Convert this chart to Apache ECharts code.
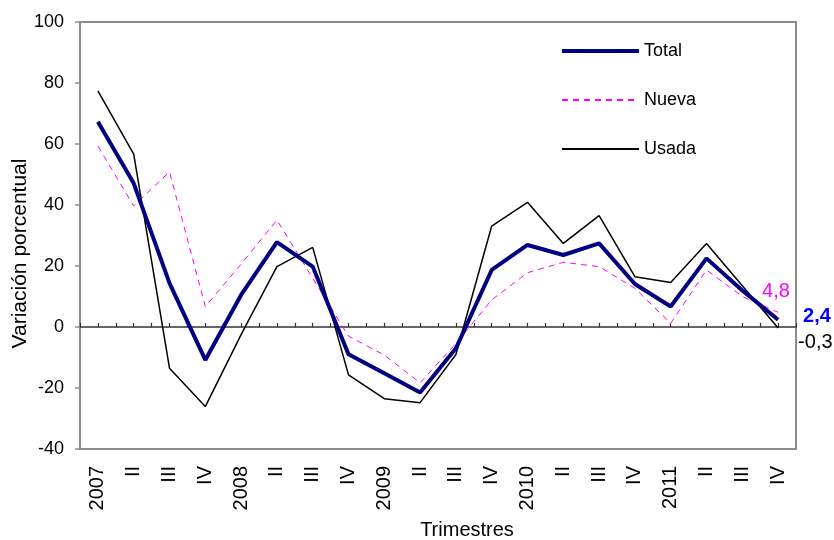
<!DOCTYPE html>
<html>
<head>
<meta charset="utf-8">
<script src="https://cdn.jsdelivr.net/npm/echarts@6/dist/echarts.min.js"></script>
<style>html,body{margin:0;padding:0;background:#fff}#c{width:834px;height:540px}</style>
</head>
<body>
<div id="c"></div>
<script>
const categories = ['2007','II','III','IV','2008','II','III','IV','2009','II','III','IV','2010','II','III','IV','2011','II','III','IV'];
const total = [67.3, 47.1, 14.4, -10.8, 10.5, 27.8, 19.8, -8.9, -15.2, -21.5, -7.0, 18.7, 26.9, 23.6, 27.4, 14.1, 6.7, 22.5, 12.0, 2.4];
const nueva = [59.3, 39.7, 50.9, 6.7, 20.6, 35.1, 16.0, -3.0, -9.2, -18.3, -5.4, 8.9, 17.8, 21.2, 19.8, 12.7, 1.2, 18.7, 10.0, 4.8];
const usada = [77.4, 56.7, -13.5, -26.1, -2.5, 19.8, 26.1, -15.7, -23.5, -24.8, -9.0, 33.1, 40.9, 27.4, 36.5, 16.5, 14.6, 27.4, 13.5, -0.3];
const yTicks = { min: -40, max: 100, interval: 20 };

const FONT = 'Liberation Sans, Arial, sans-serif';
const fmt = v => String(v).replace('.', ',');
const endLbl = (color, bold, offset) => ({
  show: true,
  offset: offset,
  distance: 5,
  color: color,
  fontFamily: FONT,
  fontSize: 20,
  fontWeight: bold ? 'bold' : 'normal',
  formatter: p => fmt(p.value)
});

const chart = echarts.init(document.getElementById('c'), null, { renderer: 'canvas' });
chart.setOption({
  animation: false,
  backgroundColor: '#fff',
  textStyle: { fontFamily: FONT },
  title: {
    text: 'Trimestres',
    left: 467, top: 520, textAlign: 'center', padding: 0,
    textStyle: { fontFamily: FONT, fontSize: 20, fontWeight: 'normal', color: '#000' }
  },
  grid: {
    left: 80, right: 38, top: 22, bottom: 91,
    outerBoundsMode: 'none', containLabel: false,
    show: true, borderColor: '#8c8c8c', borderWidth: 2, backgroundColor: 'transparent'
  },
  legend: {
    orient: 'vertical',
    left: 555, top: 37,
    itemWidth: 77, itemHeight: 14, itemGap: 31,
    itemStyle: { opacity: 0 },
    textStyle: { fontFamily: FONT, fontSize: 18, color: '#000' },
    data: [
      { name: 'Total', lineStyle: { width: 4 } },
      { name: 'Nueva' },
      { name: 'Usada' }
    ]
  },
  xAxis: [
    {
      type: 'category', data: categories, position: 'bottom',
      axisLine: { show: false, onZero: false },
      axisTick: { show: false },
      axisLabel: { rotate: 90, fontSize: 20, color: '#000', fontFamily: FONT, margin: 17, interval: 0 }
    },
    {
      type: 'category', data: Array(categories.length * 2 + 1).fill(''), position: 'top',
      boundaryGap: false,
      axisLine: { show: true, onZero: true, lineStyle: { color: '#333', width: 1.5 } },
      axisTick: { show: true, inside: false, length: 4, interval: 0, lineStyle: { color: '#333', width: 1.2 } },
      axisLabel: { show: false }
    }
  ],
  yAxis: {
    type: 'value', min: yTicks.min, max: yTicks.max, interval: yTicks.interval,
    name: 'Variación porcentual', nameLocation: 'middle', nameGap: 49, nameRotate: 90,
    nameMoveOverlap: false,
    nameTextStyle: { fontFamily: FONT, fontSize: 21, color: '#000', padding: [0, 36, 0, 0] },
    axisLine: { show: true, lineStyle: { color: '#8c8c8c', width: 2 } },
    axisTick: { show: true, length: 5, lineStyle: { color: '#8c8c8c', width: 1.5 } },
    splitLine: { show: false },
    axisLabel: { fontSize: 18, color: '#000', fontFamily: FONT, margin: 16 }
  },
  series: [
    {
      name: 'Nueva', type: 'line', data: nueva, symbol: 'none', z: 3,
      lineStyle: { color: '#ff00ff', width: 1, type: [6, 5] },
      itemStyle: { color: '#ff00ff' },
      endLabel: endLbl('#ff00ff', false, [-21, -21])
    },
    {
      name: 'Usada', type: 'line', data: usada, symbol: 'none', z: 4,
      lineStyle: { color: '#000', width: 1.5 },
      itemStyle: { color: '#000' },
      endLabel: endLbl('#000', false, [15, 15])
    },
    {
      name: 'Total', type: 'line', data: total, symbol: 'none', z: 5,
      lineStyle: { color: '#000080', width: 4 },
      itemStyle: { color: '#000080' },
      endLabel: endLbl('#0000ff', true, [20, -3])
    }
  ]
});
</script>
</body>
</html>
